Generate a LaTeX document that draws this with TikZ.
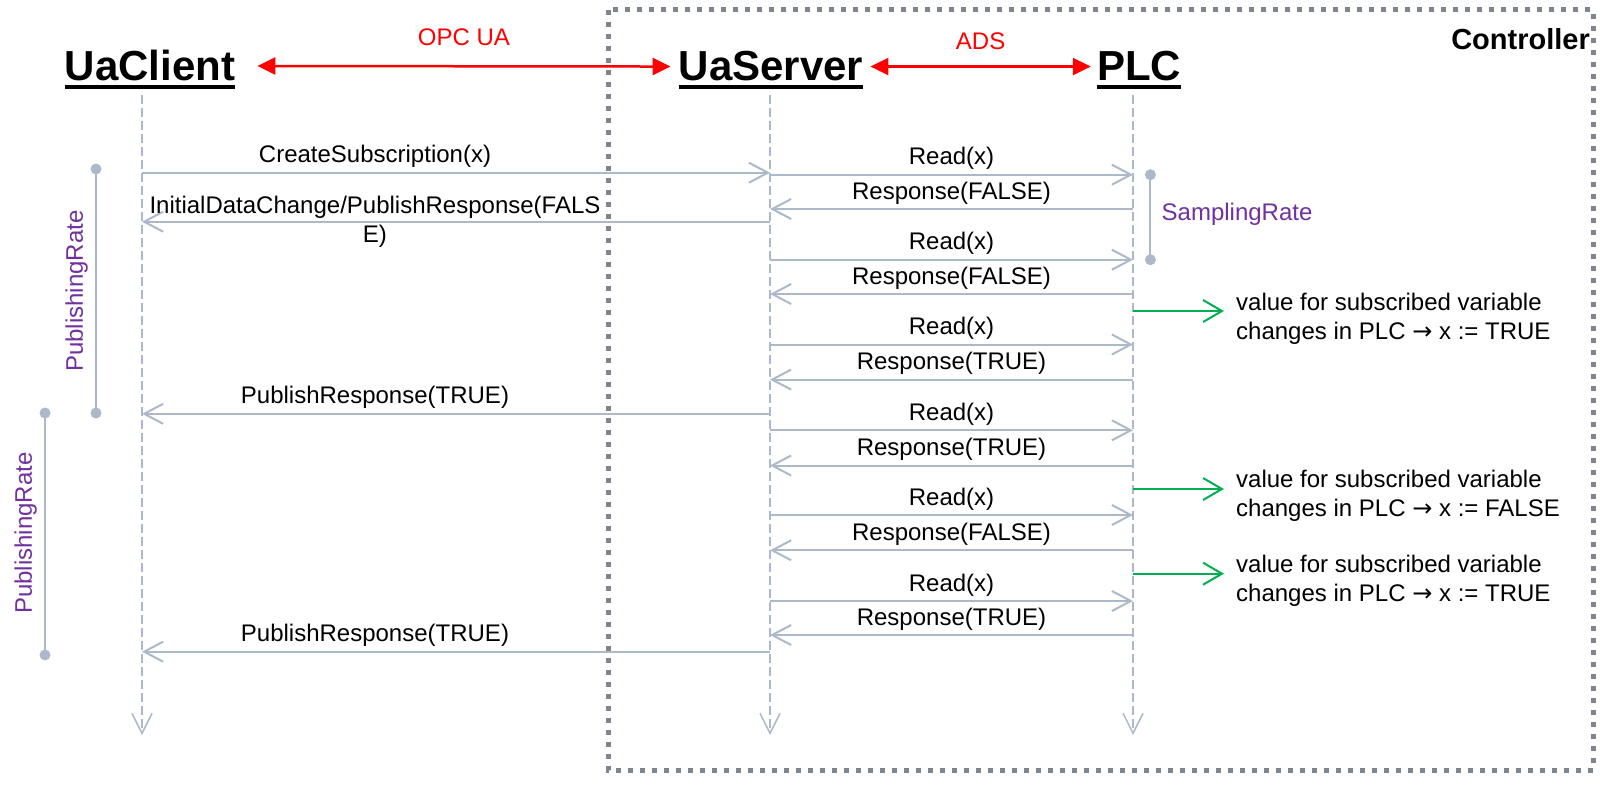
\documentclass[tikz,border=0pt]{standalone}
\usepackage{fontspec}
\setmainfont{Liberation Sans}
\newfontfamily\arrowfont{DejaVu Sans}
\usetikzlibrary{positioning, arrows.meta}

\definecolor{msggray}{HTML}{ADB9CA}
\definecolor{boxgray}{HTML}{7F848E}
\definecolor{ratepurple}{HTML}{7030A0}
\definecolor{chggreen}{HTML}{00B050}

\tikzset{
  every node/.style={font=\fontsize{24}{29}\selectfont},
  hdr/.style={font=\fontsize{42}{50}\selectfont\bfseries, inner sep=0pt, anchor=base},
  hdrline/.style={line width=3.5pt},
  proto/.style={red, line width=2.5pt, {Triangle[length=18pt,width=17pt]}-{Triangle[length=18pt,width=17pt]}},
  protolbl/.style={red, inner sep=0pt},
  life/.style={msggray, line width=1.5pt, dash pattern=on 9pt off 4pt, -{Straight Barb[length=20pt,width=20pt]}},
  msg/.style={msggray, line width=2pt, -{Straight Barb[length=19pt,width=20pt]}},
  lbl/.style={text=black, inner sep=0pt, above=4pt},
  chg/.style={chggreen, line width=2pt, -{Straight Barb[length=19pt,width=22pt]}},
  note/.style={inner sep=0pt, anchor=west, align=left},
  rate/.style={msggray, line width=2pt},
  ratelbl/.style={ratepurple, inner sep=0pt},
  ctrl/.style={boxgray, line width=5pt, dash pattern=on 5pt off 7pt}
}

\begin{document}
\begin{tikzpicture}[x=1pt, y=-1pt]
        \useasboundingbox (0,0) rectangle (1622,789);
        % controller frame
        \draw[ctrl] (608,10) rectangle (1593,770);
        \node[anchor=base east, inner sep=0pt, font=\fontsize{29}{34}\selectfont\bfseries] (ctrl) at (1590,50) {Controller};
        % participants
        \node[hdr] (cln) at (150,81) {UaClient};
        \node[hdr] (svn) at (771,81) {UaServer};
        \node[hdr] (plcn) at (1139,81) {PLC};
        \draw[hdrline] ([yshift=-6pt]cln.base west) -- ([yshift=-6pt]cln.base east);
        \draw[hdrline] ([yshift=-6pt]svn.base west) -- ([yshift=-6pt]svn.base east);
        \draw[hdrline] ([yshift=-6pt]plcn.base west) -- ([yshift=-6pt]plcn.base east);
        \draw[proto] ([xshift=22pt]cln.east) -- ([xshift=-8pt]svn.west) node[protolbl, midway, above=19.5pt] {OPC UA};
        \draw[proto] ([xshift=7pt]svn.east) -- ([xshift=-6pt]plcn.west) node[protolbl, midway, above=16pt] {ADS};
        % lifelines
        \coordinate (cl) at (142,95);
        \coordinate (sv) at (770,95);
        \coordinate (pl) at (1133,95);
        \coordinate (cl-end) at (142,735);
        \coordinate (sv-end) at (770,735);
        \coordinate (pl-end) at (1133,735);
        \draw[life] (cl) -- (cl-end);
        \draw[life] (sv) -- (sv-end);
        \draw[life] (pl) -- (pl-end);
        % client <-> server
        \draw[msg] (cl |- 0,172.7) -- (sv |- 0,172.7) node[lbl, pos=0.371] {CreateSubscription(x)};
        \draw[msg] (sv |- 0,221.7) -- (cl |- 0,221.7) node[pos=0.629, text=black, inner sep=0pt, align=center] {InitialDataChange/PublishResponse(FALS\\E)};
        \draw[msg] (sv |- 0,413.8) -- (cl |- 0,413.8) node[lbl, pos=0.629] {PublishResponse(TRUE)};
        \draw[msg] (sv |- 0,651.7) -- (cl |- 0,651.7) node[lbl, pos=0.629] {PublishResponse(TRUE)};
        % server <-> plc
        \draw[msg] (sv |- 0,174.7) -- (pl |- 0,174.7) node[lbl, midway] {Read(x)};
        \draw[msg] (pl |- 0,209) -- (sv |- 0,209) node[lbl, midway] {Response(FALSE)};
        \draw[msg] (sv |- 0,259.7) -- (pl |- 0,259.7) node[lbl, midway] {Read(x)};
        \draw[msg] (pl |- 0,294) -- (sv |- 0,294) node[lbl, midway] {Response(FALSE)};
        \draw[msg] (sv |- 0,344.5) -- (pl |- 0,344.5) node[lbl, midway] {Read(x)};
        \draw[msg] (pl |- 0,379.6) -- (sv |- 0,379.6) node[lbl, midway] {Response(TRUE)};
        \draw[msg] (sv |- 0,430.3) -- (pl |- 0,430.3) node[lbl, midway] {Read(x)};
        \draw[msg] (pl |- 0,465.5) -- (sv |- 0,465.5) node[lbl, midway] {Response(TRUE)};
        \draw[msg] (sv |- 0,515) -- (pl |- 0,515) node[lbl, midway] {Read(x)};
        \draw[msg] (pl |- 0,550.3) -- (sv |- 0,550.3) node[lbl, midway] {Response(FALSE)};
        \draw[msg] (sv |- 0,601) -- (pl |- 0,601) node[lbl, midway] {Read(x)};
        \draw[msg] (pl |- 0,635) -- (sv |- 0,635) node[lbl, midway] {Response(TRUE)};
        % value changes in the plc
        \node[note] (n1) at (1236,318.4) {value for subscribed variable\\changes in PLC {\arrowfont →} x := TRUE};
        \node[note] (n2) at (1236,495.4) {value for subscribed variable\\changes in PLC {\arrowfont →} x := FALSE};
        \node[note] (n3) at (1236,581) {value for subscribed variable\\changes in PLC {\arrowfont →} x := TRUE};
        \coordinate (c1) at (1133,311);
        \coordinate (c2) at (1133,489);
        \coordinate (c3) at (1133,573.7);
        \draw[chg, shorten >=12pt] (c1) -- (c1 -| n1.west);
        \draw[chg, shorten >=12pt] (c2) -- (c2 -| n2.west);
        \draw[chg, shorten >=12pt] (c3) -- (c3 -| n3.west);
        % rates
        \coordinate (pr1-top) at (96,169);
        \coordinate (pr1-bot) at (96,413);
        \coordinate (pr2-top) at (45,413);
        \coordinate (pr2-bot) at (45,655);
        \coordinate (sr-top) at (1150.4,174.7);
        \coordinate (sr-bot) at (1150.4,259.7);
        \draw[rate] (pr1-top) -- (pr1-bot);
        \draw[rate] (pr2-top) -- (pr2-bot);
        \draw[rate] (sr-top) -- (sr-bot);
        \fill[msggray] (pr1-top) circle (5.5pt) (pr1-bot) circle (5.5pt);
        \fill[msggray] (pr2-top) circle (5.5pt) (pr2-bot) circle (5.5pt);
        \fill[msggray] (sr-top) circle (5.5pt) (sr-bot) circle (5.5pt);
        \node[ratelbl, rotate=90, anchor=south] (pr1-lbl) at (88,291) {PublishingRate};
        \node[ratelbl, rotate=90, anchor=south] (pr2-lbl) at (37,533) {PublishingRate};
        \node[ratelbl, anchor=west] (sr-lbl) at (1161.5,214) {SamplingRate};
\end{tikzpicture}
\end{document}
